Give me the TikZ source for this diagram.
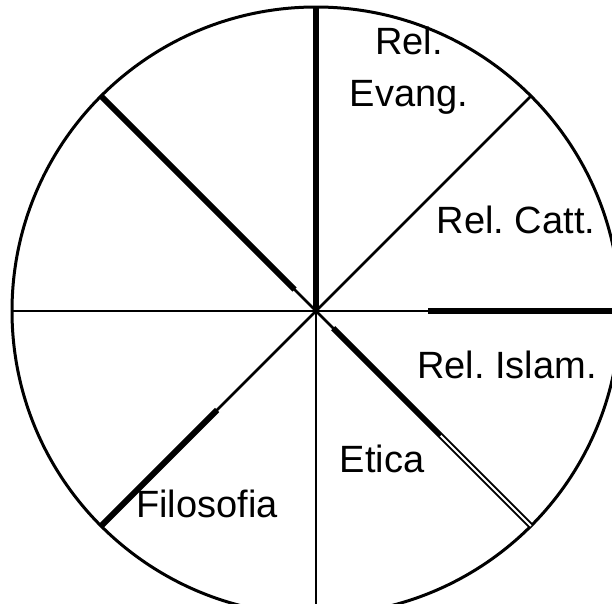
\documentclass[tikz,border=0pt]{standalone}
\usepackage{fontspec}
\setmainfont{Liberation Sans}
\frenchspacing

\begin{document}
\begin{tikzpicture}[x=1pt,y=1pt,
  rim/.style={line width=3pt},
  spoke/.style={line width=2.6pt},
  heavy/.style={line width=6pt},
  hollow/.style={line width=2pt,double,double distance=2pt},
  lbl/.style={font=\fontsize{38}{52}\selectfont,align=center,inner sep=0pt}]
\useasboundingbox (0,0) rectangle (612,-603);
\clip (0,0) rectangle (612,-603);
\fill[white] (0,0) rectangle (612,-603);
\coordinate (c) at (316,-311);
% points on the rim:
\foreach \a/\n in {0/e,45/ne,90/n,135/nw,180/w,225/sw,270/s,315/se}
  \path (c) ++(\a:304) coordinate (\n);
\draw[rim] (c) circle (304);
% thin spokes:
\draw[spoke] (c) -- (ne);
\draw[spoke] (c) -- (w);
\draw[spoke] (c) -- (s);
\draw[spoke] (c) -- (e);
\draw[spoke] (c) -- (nw);
\draw[spoke] (c) -- (sw);
\draw[spoke] (c) -- (se);
% heavy parts:
\draw[line width=5.5pt] (c) -- (n);
\path (c) -- (e) coordinate[pos=0.37] (e1);
\draw[heavy] (e1) -- (e);
\path (c) -- (nw) coordinate[pos=0.1] (nw1);
\draw[heavy] (nw1) -- (nw);
\path (c) -- (sw) coordinate[pos=0.46] (sw1);
\draw[heavy] (sw1) -- (sw);
\path (c) -- (se) coordinate[pos=0.08] (se0) coordinate[pos=0.58] (se1);
\draw[heavy] (se0) -- (se1);
\draw[hollow] (se1) -- (se);
% labels:
\node[lbl] (evang) at (409,-71) {Rel.\\Evang.};
\node[lbl,anchor=base] (catt) at (516,-233) {Rel. Catt.};
\node[lbl,anchor=base] (islam) at (507,-378) {Rel. Islam.};
\node[lbl,anchor=base] (etica) at (382,-472) {Etica};
\node[lbl,anchor=base] (filo) at (207,-517) {Filosofia};
\end{tikzpicture}
\end{document}
